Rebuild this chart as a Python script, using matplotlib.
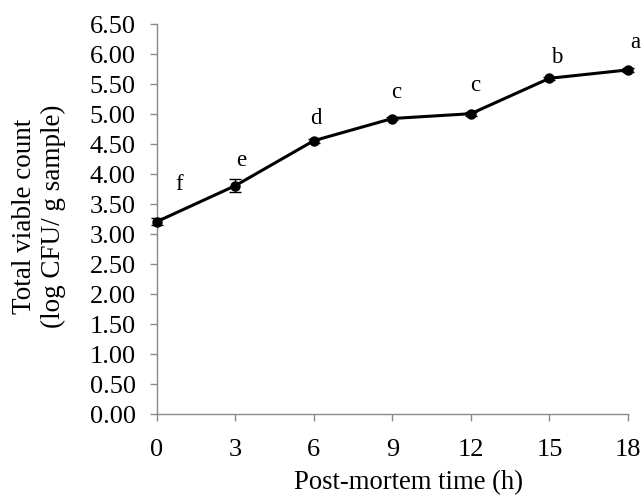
import matplotlib.pyplot as plt

# post-mortem time (h) and total viable count (log CFU/g)
hours = [0, 3, 6, 9, 12, 15, 18]
tvc = [3.21, 3.81, 4.56, 4.93, 5.01, 5.60, 5.74]
tvc_err = [0.06, 0.11, 0.03, 0.02, 0.03, 0.03, 0.03]
letters = ['f', 'e', 'd', 'c', 'c', 'b', 'a']
# letter baseline positions
letter_x = [0.86, 3.22, 6.09, 9.14, 12.16, 15.28, 18.27]
letter_y = [3.73, 4.14, 4.84, 5.27, 5.39, 5.85, 6.11]

yticks = [i * 0.5 for i in range(14)]
xticks = [0, 3, 6, 9, 12, 15, 18]

plt.rcParams['font.family'] = ['Liberation Serif', 'DejaVu Serif']

W, H = 642, 496
fig = plt.figure(figsize=(W / 100, H / 100), dpi=100)
# axes box: x 156.7..628 px, y 24.3..414.3 px
ax = fig.add_axes([156.7 / W, (H - 414.3) / H, (628 - 156.7) / W, 390 / H])

ax.errorbar(hours, tvc, yerr=tvc_err, color='black', lw=2.2, marker='o',
            markersize=6.5, capsize=4.3, elinewidth=1.0, capthick=1.0, clip_on=False, zorder=3)

for lx, ly, t in zip(letter_x, letter_y, letters):
    ax.text(lx, ly, t, fontsize=16.5, ha='center', va='baseline')

ax.set_xlim(0, 18)
ax.set_ylim(0, 6.5)
ax.set_xticks(xticks)
ax.set_yticks(yticks)
ax.set_yticklabels([f'{v:.2f}' for v in yticks])
ax.tick_params(labelsize=19, length=5, width=1, color='#898989')
ax.tick_params(axis='y', pad=10)
ax.tick_params(axis='x', pad=13)

for s in ['top', 'right']:
    ax.spines[s].set_visible(False)
for s in ['left', 'bottom']:
    ax.spines[s].set_color('#898989')
    ax.spines[s].set_linewidth(1)

# axis titles placed like the original (x title sits right of centre)
fig.text(409 / W, 1 - 483 / H, 'Post-mortem time (h)', fontsize=19.2,
         ha='center', va='center')
fig.text(39 / W, 1 - 216 / H, 'Total viable count\n(log CFU/ g sample)', fontsize=19.5,
         ha='center', va='center', rotation=90, linespacing=1.2)

fig.savefig('out.png', dpi=100)
